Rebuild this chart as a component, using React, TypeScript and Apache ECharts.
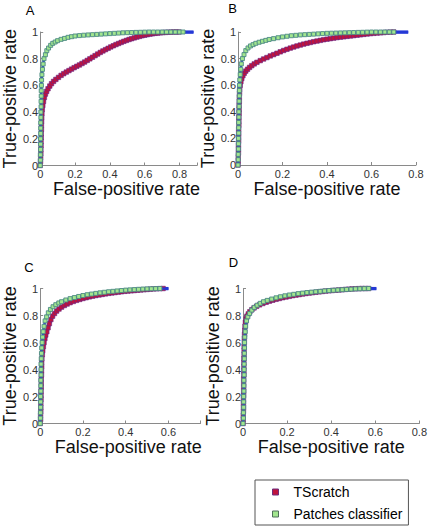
import React, { useEffect, useRef } from "react";
import * as echarts from "echarts";

// ---------- data ----------
const panelLabels = ["A", "B", "C", "D"];
const seriesNames = ["TScratch", "Patches classifier"];
const xMaxes = [0.9, 0.8, 0.75, 0.8];
const curveEnds = [0.88, 0.765, 0.6, 0.605];
const xAxisTitle = "False-positive rate";
const yAxisTitle = "True-positive rate";

const tscratchA: number[][] = [
  [0, 0], [0.002, 0.03], [0.003, 0.06], [0.004, 0.09], [0.004, 0.12], [0.005, 0.15], [0.005, 0.18], [0.006, 0.21],
  [0.006, 0.24], [0.007, 0.27], [0.007, 0.3], [0.008, 0.33], [0.009, 0.36], [0.01, 0.39], [0.012, 0.42], [0.015, 0.45],
  [0.019, 0.48], [0.024, 0.51], [0.03, 0.535], [0.037, 0.555], [0.045, 0.575], [0.055, 0.595], [0.065, 0.613],
  [0.077, 0.63], [0.09, 0.645], [0.105, 0.66], [0.12, 0.675], [0.135, 0.688], [0.15, 0.7], [0.165, 0.711], [0.18, 0.722],
  [0.195, 0.733], [0.21, 0.743], [0.225, 0.753], [0.24, 0.764], [0.255, 0.775], [0.27, 0.787], [0.285, 0.799], [0.3, 0.811],
  [0.315, 0.823], [0.33, 0.835], [0.345, 0.847], [0.36, 0.858], [0.375, 0.868], [0.39, 0.878], [0.405, 0.888], [0.42, 0.897],
  [0.435, 0.906], [0.45, 0.914], [0.465, 0.922], [0.48, 0.93], [0.495, 0.937], [0.51, 0.944], [0.525, 0.95],
  [0.54, 0.956], [0.555, 0.962], [0.57, 0.967], [0.585, 0.972], [0.6, 0.976], [0.615, 0.98], [0.63, 0.984],
  [0.645, 0.987], [0.66, 0.99], [0.675, 0.992], [0.69, 0.994], [0.705, 0.996], [0.72, 0.997], [0.735, 0.998],
  [0.75, 0.999], [0.765, 1], [0.78, 1], [0.795, 1],
];
const patchesA: number[][] = [
  [0, 0], [0.001, 0.04], [0.001, 0.08], [0.002, 0.12], [0.002, 0.16], [0.002, 0.2], [0.003, 0.24], [0.003, 0.28],
  [0.003, 0.32], [0.004, 0.36], [0.004, 0.4], [0.005, 0.44], [0.005, 0.48], [0.006, 0.52], [0.006, 0.56], [0.007, 0.6],
  [0.008, 0.64], [0.01, 0.68], [0.013, 0.72], [0.017, 0.76], [0.022, 0.8], [0.03, 0.83], [0.038, 0.86], [0.048, 0.88],
  [0.06, 0.9], [0.072, 0.915], [0.086, 0.925], [0.1, 0.935], [0.12, 0.945], [0.14, 0.952], [0.16, 0.96], [0.18, 0.965],
  [0.2, 0.97], [0.225, 0.973], [0.25, 0.976], [0.275, 0.978], [0.3, 0.98], [0.325, 0.982], [0.35, 0.984],
  [0.375, 0.986], [0.4, 0.988], [0.425, 0.99], [0.45, 0.992], [0.475, 0.994], [0.5, 0.995], [0.525, 0.996],
  [0.55, 0.997], [0.575, 0.998], [0.6, 0.999], [0.625, 1], [0.65, 1], [0.675, 1], [0.7, 1], [0.725, 1], [0.75, 1],
  [0.775, 1], [0.8, 1], [0.82, 1],
];

const tscratchB: number[][] = [
  [0, 0], [0.001, 0.03], [0.001, 0.06], [0.002, 0.09], [0.002, 0.12], [0.002, 0.15], [0.003, 0.18], [0.003, 0.21],
  [0.003, 0.24], [0.003, 0.27], [0.004, 0.3], [0.004, 0.33], [0.004, 0.36], [0.005, 0.39], [0.005, 0.42], [0.005, 0.45],
  [0.006, 0.48], [0.006, 0.51], [0.007, 0.54], [0.008, 0.57], [0.01, 0.6], [0.013, 0.627], [0.017, 0.65],
  [0.022, 0.672], [0.028, 0.69], [0.035, 0.706], [0.043, 0.72], [0.052, 0.734], [0.062, 0.747], [0.073, 0.76],
  [0.085, 0.772], [0.1, 0.785], [0.115, 0.797], [0.13, 0.808], [0.145, 0.82], [0.16, 0.83], [0.175, 0.84],
  [0.19, 0.851], [0.205, 0.861], [0.22, 0.87], [0.235, 0.879], [0.25, 0.887], [0.265, 0.895], [0.28, 0.902],
  [0.295, 0.909], [0.31, 0.915], [0.325, 0.921], [0.34, 0.927], [0.355, 0.932], [0.37, 0.937], [0.385, 0.942],
  [0.4, 0.946], [0.415, 0.95], [0.43, 0.954], [0.445, 0.958], [0.46, 0.961], [0.475, 0.964], [0.49, 0.967],
  [0.505, 0.97], [0.52, 0.973], [0.535, 0.976], [0.55, 0.979], [0.565, 0.982], [0.58, 0.985], [0.595, 0.988],
  [0.61, 0.99], [0.625, 0.992], [0.64, 0.994], [0.655, 0.996], [0.67, 0.998], [0.685, 0.999], [0.7, 1],
];
const patchesB: number[][] = [
  [0, 0], [0.001, 0.04], [0.001, 0.08], [0.002, 0.12], [0.002, 0.16], [0.002, 0.2], [0.003, 0.24], [0.003, 0.28],
  [0.003, 0.32], [0.004, 0.36], [0.004, 0.4], [0.005, 0.44], [0.005, 0.48], [0.006, 0.52], [0.006, 0.56], [0.007, 0.6],
  [0.008, 0.64], [0.01, 0.68], [0.012, 0.72], [0.015, 0.76], [0.02, 0.8], [0.027, 0.83], [0.035, 0.86], [0.045, 0.88],
  [0.056, 0.895], [0.068, 0.905], [0.08, 0.915], [0.095, 0.923], [0.11, 0.93], [0.125, 0.937], [0.14, 0.944],
  [0.16, 0.95], [0.18, 0.957], [0.2, 0.963], [0.22, 0.968], [0.24, 0.972], [0.26, 0.975], [0.28, 0.978], [0.3, 0.98],
  [0.32, 0.982], [0.34, 0.984], [0.36, 0.986], [0.38, 0.988], [0.4, 0.99], [0.42, 0.991], [0.44, 0.992],
  [0.46, 0.993], [0.48, 0.994], [0.5, 0.995], [0.52, 0.996], [0.54, 0.997], [0.56, 0.998], [0.58, 0.999], [0.6, 1],
  [0.62, 1], [0.64, 1], [0.66, 1], [0.68, 1], [0.7, 1],
];

const tscratchC: number[][] = [
  [0, 0], [0.002, 0.03], [0.002, 0.06], [0.003, 0.09], [0.003, 0.12], [0.003, 0.15], [0.004, 0.18], [0.004, 0.21],
  [0.004, 0.24], [0.005, 0.27], [0.005, 0.3], [0.005, 0.33], [0.006, 0.36], [0.006, 0.39], [0.007, 0.42],
  [0.007, 0.45], [0.008, 0.48], [0.01, 0.51], [0.012, 0.54], [0.015, 0.57], [0.018, 0.6], [0.022, 0.63],
  [0.026, 0.655], [0.031, 0.68], [0.037, 0.71], [0.043, 0.74], [0.05, 0.77], [0.058, 0.795], [0.067, 0.815],
  [0.077, 0.833], [0.088, 0.848], [0.1, 0.862], [0.113, 0.874], [0.126, 0.885], [0.14, 0.895], [0.155, 0.904],
  [0.17, 0.912], [0.185, 0.919], [0.2, 0.926], [0.215, 0.932], [0.23, 0.938], [0.245, 0.943], [0.26, 0.948],
  [0.275, 0.952], [0.29, 0.956], [0.305, 0.96], [0.32, 0.964], [0.335, 0.967], [0.35, 0.97], [0.365, 0.973],
  [0.38, 0.976], [0.395, 0.979], [0.41, 0.981], [0.425, 0.983], [0.44, 0.985], [0.455, 0.987], [0.47, 0.989],
  [0.485, 0.991], [0.5, 0.993], [0.515, 0.995], [0.53, 0.997], [0.545, 0.998], [0.56, 0.999], [0.575, 1],
];
const patchesC: number[][] = [
  [0, 0], [0.001, 0.04], [0.001, 0.08], [0.002, 0.12], [0.002, 0.16], [0.002, 0.2], [0.003, 0.24], [0.003, 0.28],
  [0.003, 0.32], [0.004, 0.36], [0.004, 0.4], [0.004, 0.44], [0.005, 0.48], [0.006, 0.52], [0.007, 0.56],
  [0.009, 0.6], [0.011, 0.64], [0.014, 0.68], [0.018, 0.72], [0.023, 0.76], [0.03, 0.79], [0.038, 0.82],
  [0.048, 0.845], [0.06, 0.865], [0.073, 0.88], [0.087, 0.893], [0.1, 0.902], [0.12, 0.915], [0.14, 0.925],
  [0.16, 0.933], [0.18, 0.941], [0.2, 0.948], [0.22, 0.954], [0.24, 0.959], [0.26, 0.964], [0.28, 0.968],
  [0.3, 0.972], [0.32, 0.976], [0.34, 0.979], [0.36, 0.982], [0.38, 0.985], [0.4, 0.988], [0.42, 0.99],
  [0.44, 0.992], [0.46, 0.994], [0.48, 0.996], [0.5, 0.997], [0.52, 0.998], [0.54, 0.999], [0.56, 1],
];

const tscratchD: number[][] = [
  [0, 0], [0.001, 0.03], [0.001, 0.06], [0.002, 0.09], [0.002, 0.12], [0.002, 0.15], [0.002, 0.18], [0.003, 0.21],
  [0.003, 0.24], [0.003, 0.27], [0.003, 0.3], [0.003, 0.33], [0.004, 0.36], [0.004, 0.39], [0.004, 0.42],
  [0.004, 0.45], [0.004, 0.48], [0.005, 0.51], [0.005, 0.54], [0.005, 0.57], [0.006, 0.6], [0.006, 0.63],
  [0.007, 0.66], [0.008, 0.69], [0.009, 0.72], [0.011, 0.75], [0.014, 0.775], [0.018, 0.795], [0.024, 0.812],
  [0.031, 0.828], [0.04, 0.843], [0.05, 0.856], [0.062, 0.868], [0.075, 0.879], [0.09, 0.889], [0.105, 0.898],
  [0.12, 0.906], [0.135, 0.913], [0.15, 0.92], [0.165, 0.926], [0.18, 0.932], [0.195, 0.937], [0.21, 0.942],
  [0.225, 0.947], [0.24, 0.951], [0.255, 0.955], [0.27, 0.959], [0.285, 0.963], [0.3, 0.966], [0.315, 0.969],
  [0.33, 0.972], [0.345, 0.975], [0.36, 0.978], [0.375, 0.981], [0.39, 0.983], [0.405, 0.985], [0.42, 0.987],
  [0.435, 0.989], [0.45, 0.991], [0.465, 0.993], [0.48, 0.995], [0.495, 0.997], [0.51, 0.998], [0.525, 0.999],
  [0.54, 1], [0.555, 1], [0.57, 1],
];
const patchesD: number[][] = [
  [0, 0], [0.002, 0.04], [0.002, 0.08], [0.003, 0.12], [0.003, 0.16], [0.003, 0.2], [0.004, 0.24], [0.004, 0.28],
  [0.004, 0.32], [0.005, 0.36], [0.005, 0.4], [0.005, 0.44], [0.006, 0.48], [0.006, 0.52], [0.007, 0.56],
  [0.007, 0.6], [0.008, 0.64], [0.01, 0.68], [0.012, 0.72], [0.016, 0.76], [0.022, 0.79], [0.03, 0.815],
  [0.04, 0.84], [0.051, 0.86], [0.064, 0.876], [0.078, 0.89], [0.093, 0.902], [0.11, 0.912], [0.13, 0.922],
  [0.15, 0.931], [0.17, 0.939], [0.19, 0.946], [0.21, 0.952], [0.23, 0.957], [0.25, 0.962], [0.27, 0.966],
  [0.29, 0.97], [0.31, 0.973], [0.33, 0.976], [0.35, 0.979], [0.37, 0.982], [0.39, 0.985], [0.41, 0.987],
  [0.43, 0.989], [0.45, 0.991], [0.47, 0.993], [0.49, 0.995], [0.51, 0.997], [0.53, 0.998], [0.55, 0.999], [0.57, 1],
];

const tscratchCurves = [tscratchA, tscratchB, tscratchC, tscratchD];
const patchesCurves = [patchesA, patchesB, patchesC, patchesD];

// ---------- layout / style ----------
const FONT = "'Liberation Sans', Arial, Helvetica, sans-serif";
const grids = [
  { left: 36, top: 32, width: 161, height: 133.5 },
  { left: 238, top: 32, width: 178, height: 133 },
  { left: 39, top: 288.5, width: 161.5, height: 135 },
  { left: 243, top: 288.5, width: 178.5, height: 135 },
];
const letterPos = [
  [30, 10.5], [232.5, 8.5], [29, 267], [233.5, 262],
];
const xTitleShift = [16, 0, 16, 0];
const yTitleGap = [19, 19, 19, 19];

const RED = { fill: "#c0133d", edge: "#6a2585" };
const GREEN = { fill: "#a2e68e", edge: "#4d8a84" };
const LINE_BLUE = "#2438d6";
const AXIS_GREY = "#8a8a8a";

function curveData(points: number[][], endX: number) {
  const d: any[] = points.map((p) => ({ value: p }));
  d.push({ value: [endX, 1], symbol: "none" });
  return d;
}

export default function App() {
  const ref = useRef<HTMLDivElement>(null);
  useEffect(() => {
    if (!ref.current) return;
    const chart = echarts.init(ref.current, undefined, { renderer: "svg" });

    const xAxis = grids.map((_, i) => ({
      type: "value",
      gridIndex: i,
      min: 0,
      max: xMaxes[i],
      interval: 0.2,
      name: xAxisTitle,
      nameLocation: "middle",
      nameGap: 10,
      nameTextStyle: {
        fontFamily: FONT,
        fontSize: 18,
        color: "#111",
        padding: [0, 0, 0, xTitleShift[i]],
      },
      axisLine: { show: true, lineStyle: { color: AXIS_GREY, width: 1 } },
      axisTick: { show: true, inside: true, length: 3, lineStyle: { color: AXIS_GREY } },
      axisLabel: {
        fontFamily: FONT,
        fontSize: 11,
        color: "#333",
        margin: 3,
        formatter: (v: number) =>
          Math.abs(v * 5 - Math.round(v * 5)) < 1e-6 ? String(Math.round(v * 10) / 10) : "",
      },
      splitLine: { show: false },
    }));

    const yAxis = grids.map((_, i) => ({
      type: "value",
      gridIndex: i,
      min: 0,
      max: 1,
      interval: 0.2,
      name: yAxisTitle,
      nameLocation: "middle",
      nameGap: yTitleGap[i],
      nameTextStyle: { fontFamily: FONT, fontSize: 18, color: "#111" },
      axisLine: { show: true, lineStyle: { color: AXIS_GREY, width: 1 } },
      axisTick: { show: true, inside: true, length: 3, lineStyle: { color: AXIS_GREY } },
      axisLabel: { fontFamily: FONT, fontSize: 11, color: "#333", margin: 2 },
      splitLine: { show: false },
    }));

    const series: any[] = [];
    grids.forEach((_, i) => {
      series.push({
        type: "line",
        name: seriesNames[0],
        xAxisIndex: i,
        yAxisIndex: i,
        data: curveData(tscratchCurves[i], curveEnds[i]),
        lineStyle: { color: LINE_BLUE, width: 3.5 },
        symbol: "rect",
        symbolSize: 4.5,
        itemStyle: { color: RED.fill, borderColor: RED.edge, borderWidth: 0.6 },
        z: 2,
      });
      series.push({
        type: "line",
        name: seriesNames[1],
        xAxisIndex: i,
        yAxisIndex: i,
        data: curveData(patchesCurves[i], curveEnds[i]),
        lineStyle: { color: LINE_BLUE, width: 2.5 },
        symbol: "rect",
        symbolSize: 4,
        itemStyle: { color: GREEN.fill, borderColor: GREEN.edge, borderWidth: 0.9 },
        z: 3,
      });
    });

    chart.setOption({
      animation: false,
      backgroundColor: "#ffffff",
      grid: grids.map((g) => ({ ...g, containLabel: false })),
      xAxis,
      yAxis,
      series,
      legend: {
        orient: "vertical",
        left: 255,
        top: 480,
        padding: [5, 6, 4, 17],
        itemWidth: 6,
        itemHeight: 6,
        itemGap: 8,
        borderColor: "#555",
        borderWidth: 1,
        backgroundColor: "#fff",
        textStyle: { fontFamily: FONT, fontSize: 14, color: "#000", padding: [0, 0, 0, 10] },
        data: [
          { name: seriesNames[0], icon: "rect", itemStyle: { color: RED.fill, borderColor: "#6a2f7f", borderWidth: 1 } },
          { name: seriesNames[1], icon: "rect", itemStyle: { color: GREEN.fill, borderColor: "#4f6f5a", borderWidth: 1 } },
        ],
      },
      graphic: panelLabels.map((t, i) => ({
        type: "text",
        x: letterPos[i][0],
        y: letterPos[i][1],
        style: {
          text: t,
          fontFamily: FONT,
          fontSize: 13,
          fill: "#000",
          align: "center",
          verticalAlign: "middle",
        },
      })),
    });
    return () => chart.dispose();
  }, []);

  return (
    <div
      ref={ref}
      style={{ position: "fixed", left: 0, top: 0, width: 430, height: 529, background: "#fff" }}
    />
  );
}
